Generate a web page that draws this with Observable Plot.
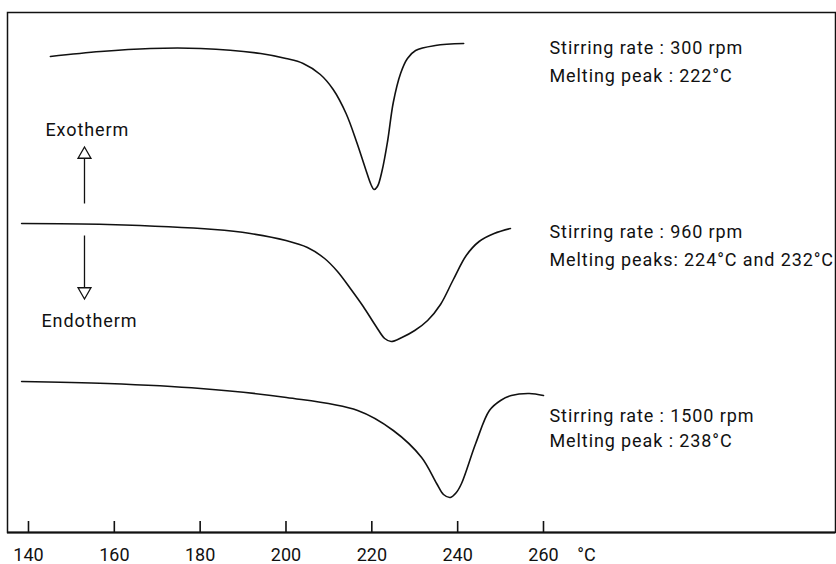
<!DOCTYPE html>
<html>
<head>
<meta charset="utf-8">
<script src="https://cdn.jsdelivr.net/npm/d3@7"></script>
<script src="https://cdn.jsdelivr.net/npm/@observablehq/plot@0.6"></script>
<style>
  html, body { margin: 0; padding: 0; background: #fff; }
  #chart svg { display: block; }
  #chart svg g[aria-label="text"] text { letter-spacing: 0.9px; }
</style>
</head>
<body>
<div id="chart"></div>
<script>
// ---- Data ----
// Temperature (°C) and heat-flow signal (arbitrary units) for each stirring rate
const temp300 = [145.1, 156.8, 168.4, 180.1, 194.1, 200.0, 204.0, 208.0, 211.0, 214.0, 216.5, 218.5, 219.8, 220.5, 221.3, 222.4, 223.7, 225.0, 226.7, 228.3, 230.2, 234.8, 241.4];
const heat300 = [47.6, 48.1, 48.4, 48.4, 47.9, 47.4, 46.9, 45.8, 44.3, 41.9, 39.0, 36.4, 34.8, 34.3, 34.6, 36.2, 39.2, 43.0, 45.9, 47.4, 48.2, 48.7, 48.9];

const temp960 = [138.4, 158.4, 183.3, 191.7, 200.0, 205.0, 209.0, 212.0, 215.0, 218.0, 221.0, 223.0, 224.5, 227.0, 230.0, 233.0, 236.0, 239.0, 242.0, 245.0, 248.5, 252.3];
const heat960 = [30.9, 30.8, 30.3, 29.9, 29.2, 28.5, 27.4, 26.1, 24.4, 22.6, 20.6, 19.4, 19.1, 19.5, 20.2, 21.2, 22.8, 25.3, 27.7, 29.1, 29.9, 30.4];

const temp1500 = [138.4, 158.4, 180.1, 200.1, 216.7, 225.0, 231.6, 235.1, 236.7, 238.3, 239.7, 240.9, 244.2, 247.4, 250.0, 252.5, 256.7, 260.0];
const heat1500 = [15.1, 14.9, 14.4, 13.5, 12.2, 10.2, 7.5, 4.9, 3.8, 3.5, 4.0, 4.9, 8.9, 12.2, 13.2, 13.7, 13.9, 13.7];

const seriesNames = ["300 rpm", "960 rpm", "1500 rpm"];

// Axis ticks
const tickValues = [140, 160, 180, 200, 220, 240, 260];
const unitLabel = "°C";
const unitPosition = 270;

// Annotation texts
const annoLines = [
  "Stirring rate : 300 rpm", "Melting peak : 222°C",
  "Stirring rate : 960 rpm", "Melting peaks: 224°C and 232°C",
  "Stirring rate : 1500 rpm", "Melting peak : 238°C"
];
const annoX = 261.4;
const annoY = [48.4, 45.6, 30.0, 27.25, 11.65, 9.1];

// Exotherm / Endotherm indicator
const dirLabels = ["Exotherm", "Endotherm"];
const dirLabelX = [153.7, 154.2];
const dirLabelY = [40.2, 21.1];
const arrowX = 153.05;
const arrowShaftY1 = [32.9, 29.7];
const arrowShaftY2 = [37.4, 24.5];
const arrowHeadY = [37.8, 24.1];
const arrowHeadRotate = [0, 180];

// ---- Build tables ----
const rows = [];
[[temp300, heat300], [temp960, heat960], [temp1500, heat1500]].forEach(([t, h], i) => {
  t.forEach((v, j) => rows.push({series: seriesNames[i], temp: v, heat: h[j]}));
});
const annos = annoLines.map((s, i) => ({text: s, x: annoX, y: annoY[i]}));
const dirs = dirLabels.map((s, i) => ({text: s, x: dirLabelX[i], y: dirLabelY[i]}));
const shafts = arrowShaftY1.map((y1, i) => ({x: arrowX, y1, y2: arrowShaftY2[i]}));
const heads = arrowHeadY.map((y, i) => ({x: arrowX, y, rotate: arrowHeadRotate[i]}));

const FONT = "Roboto, 'DejaVu Sans', sans-serif";

const chart = Plot.plot({
  width: 836,
  height: 564,
  marginLeft: 7,
  marginRight: 1,
  marginTop: 12,
  marginBottom: 32,
  style: {fontFamily: FONT, fontSize: "18px", color: "#111", background: "#fff"},
  x: {domain: [135.11, 328.04]},
  y: {domain: [0, 52], axis: null},
  marks: [
    Plot.frame({stroke: "#111", strokeWidth: 1.5}),
    Plot.ruleY([0], {stroke: "#111", strokeWidth: 2.2}),
    Plot.ruleX(tickValues, {y1: 0, y2: 1.1, stroke: "#111", strokeWidth: 1.6}),
    Plot.axisX({
      ticks: [...tickValues, unitPosition],
      tickFormat: d => d === unitPosition ? unitLabel : String(d),
      tickSize: 0,
      tickPadding: 16,
      fontSize: 18,
      fill: "#111",
      label: null
    }),
    Plot.line(rows, {x: "temp", y: "heat", z: "series", stroke: "#111", strokeWidth: 1.6, curve: "catmull-rom"}),
    Plot.text(annos, {x: "x", y: "y", text: "text", textAnchor: "start", fontSize: 18, fill: "#111"}),
    Plot.text(dirs, {x: "x", y: "y", text: "text", fontSize: 18, fill: "#111"}),
    Plot.link(shafts, {x1: "x", x2: "x", y1: "y1", y2: "y2", stroke: "#111", strokeWidth: 1.3}),
    Plot.dot(heads, {x: "x", y: "y", rotate: "rotate", symbol: "triangle", r: 4.8, fill: "#fff", stroke: "#111", strokeWidth: 1.3})
  ]
});
document.getElementById("chart").appendChild(chart);
</script>
</body>
</html>
